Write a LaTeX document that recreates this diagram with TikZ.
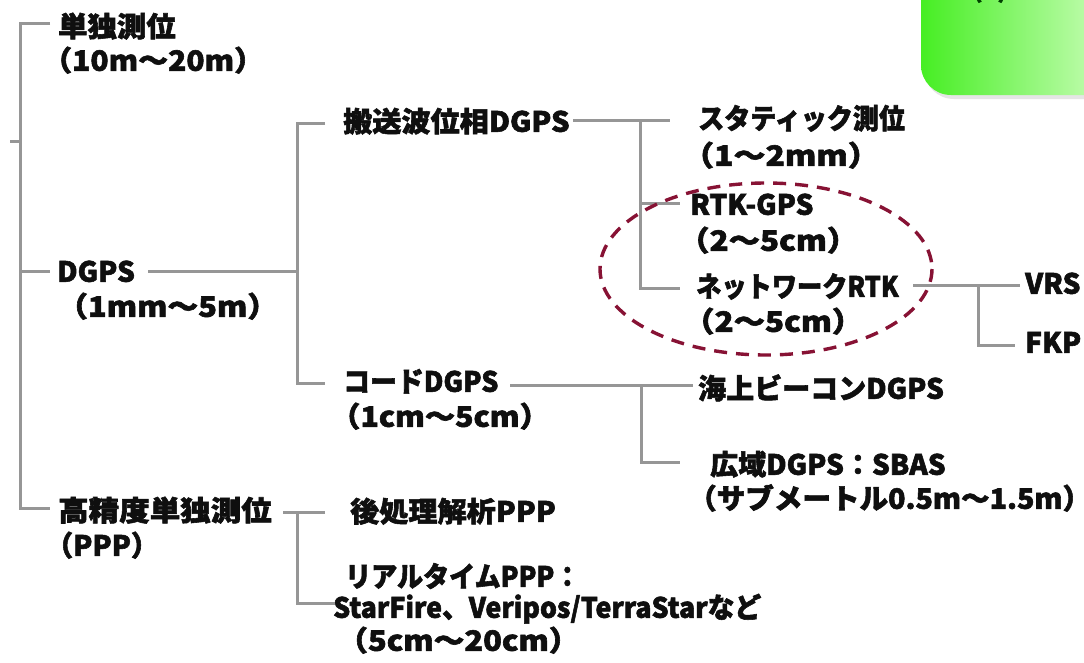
\documentclass[tikz,border=0pt]{standalone}
\usepackage{fontspec}
\setmainfont{Noto Sans CJK JP}[BoldFeatures={FakeBold=2}]
\definecolor{linegray}{RGB}{150,150,150}
\definecolor{ovalred}{RGB}{135,18,52}
\definecolor{greenA}{RGB}{70,238,35}
\definecolor{greenB}{RGB}{215,255,200}
\definecolor{txt}{RGB}{15,15,15}
\newcommand\hsc[2]{\scalebox{#1}[1]{#2}}
\tikzset{
  lbl/.style={anchor=west, inner sep=0pt, text height=0.88em, text depth=0.12em,
    font=\fontsize{28}{34}\selectfont\bfseries, text=txt},
  conn/.style={draw=linegray, line width=3pt},
  oval/.style={draw=ovalred, line width=3.4pt, dash pattern=on 13pt off 9pt}
}
\begin{document}
\begin{tikzpicture}[x=1pt,y=-1pt]
\useasboundingbox (0,0) rectangle (1084,662);
\clip (0,0) rectangle (1084,662);
\fill[white] (0,0) rectangle (1084,662);
% green box top right
\fill[black!10, rounded corners=30pt] (924,-40) rectangle (1130,99);
\shade[left color=greenA, right color=greenB, rounded corners=30pt] (921,-40) rectangle (1130,95);
\node[lbl, anchor=center, font=\fontsize{24}{28}\selectfont\bfseries, text=black!75!green] (num) at (990,-6) {(4)};
% labels
\begin{scope}[yshift=-5pt]
\node[lbl] (tandoku) at (58,28) {\hsc{1.05}{単独測位}};
\node[lbl] (tandoku2) at (42,62) {\hsc{1.07}{（10m～20m）}};
\node[lbl] (dgps) at (57,273) {DGPS};
\node[lbl] (dgps2) at (57,308) {\hsc{1.1}{（1mm～5m）}};
\node[lbl] (hanso) at (343,123) {\hsc{1.04}{搬送波位相DGPS}};
\node[lbl] (static) at (698,120) {\hsc{0.93}{スタティック測位}};
\node[lbl] (static2) at (682,157) {\hsc{1.14}{（1～2mm）}};
\node[lbl] (rtk) at (690,206) {RTK-GPS};
\node[lbl] (rtk2) at (678,242) {\hsc{1.12}{（2～5cm）}};
\node[lbl] (nrtk) at (696,288) {\hsc{0.9}{ネットワークRTK}};
\node[lbl] (nrtk2) at (683,323) {\hsc{1.12}{（2～5cm）}};
\node[lbl] (vrs) at (1025,285) {VRS};
\node[lbl] (fkp) at (1025,344) {FKP};
\node[lbl] (code) at (343,383) {\hsc{0.96}{コードDGPS}};
\node[lbl] (code2) at (330,418) {\hsc{1.08}{（1cm～5cm）}};
\node[lbl] (beacon) at (698,390) {海上ビーコンDGPS};
\node[lbl] (sbas) at (710,466) {広域DGPS：SBAS};
\node[lbl] (sbas2) at (688,500) {\hsc{1.02}{（サブメートル0.5m～1.5m\rlap{）}}};
\node[lbl] (ppp) at (58,512) {\hsc{1.09}{高精度単独測位}};
\node[lbl] (ppp2) at (45,547) {（PPP）};
\node[lbl] (post) at (350,513) {\hsc{1.04}{後処理解析PPP}};
\node[lbl] (rt) at (345,578) {\hsc{0.93}{リアルタイムPPP：}};
\node[lbl] (rt2) at (333,609) {\hsc{0.955}{StarFire、Veripos/TerraStarなど}};
\node[lbl] (rt3) at (337,642) {\hsc{1.1}{（5cm～20cm）}};
\end{scope}
% junction coordinates
\coordinate (r1) at (50,23);
\coordinate (r2) at (50,271);
\coordinate (r3) at (50,508);
\coordinate (rb) at (20,508);
\coordinate (rm) at (20,271);
\coordinate (tk1) at (10,141);
\coordinate (tk2) at (20,141);
\coordinate (d1) at (148,271);
\coordinate (d2) at (297,271);
\coordinate (h0) at (297,123);
\coordinate (h1) at (325,123);
\coordinate (c0) at (297,383);
\coordinate (c1) at (325,383);
\coordinate (s0) at (573,120);
\coordinate (s1) at (670,120);
\coordinate (s2) at (640,120);
\coordinate (s3) at (640,203);
\coordinate (s4) at (680,203);
\coordinate (s5) at (640,288);
\coordinate (s6) at (680,288);
\coordinate (n0) at (913,285);
\coordinate (n1) at (1020,285);
\coordinate (n2) at (978,285);
\coordinate (n3) at (978,345);
\coordinate (n4) at (1015,345);
\coordinate (k0) at (510,385);
\coordinate (k1) at (693,385);
\coordinate (k2) at (641,385);
\coordinate (k3) at (641,462);
\coordinate (k4) at (680,462);
\coordinate (p0) at (283,512);
\coordinate (p1) at (325,512);
\coordinate (p2) at (297,512);
\coordinate (p3) at (297,603);
\coordinate (p4) at (335,603);
% connectors
\draw[conn] (r1) -| (rb) -- (r3);
\draw[conn] (rm) -- (r2);
\draw[conn] (tk1) -- (tk2);
\draw[conn] (d1) -- (d2);
\draw[conn] (h1) -- (h0) -- (c0) -- (c1);
\draw[conn] (s0) -- (s1);
\draw[conn] (s2) -- (s5) -- (s6);
\draw[conn] (s3) -- (s4);
\draw[conn] (n0) -- (n1);
\draw[conn] (n2) -- (n3) -- (n4);
\draw[conn] (k0) -- (k1);
\draw[conn] (k2) -- (k3) -- (k4);
\draw[conn] (p0) -- (p1);
\draw[conn] (p2) -- (p3) -- (p4);
% dashed ellipse
\draw[oval] (766,269) ellipse [x radius=166, y radius=86];
\end{tikzpicture}
\end{document}
